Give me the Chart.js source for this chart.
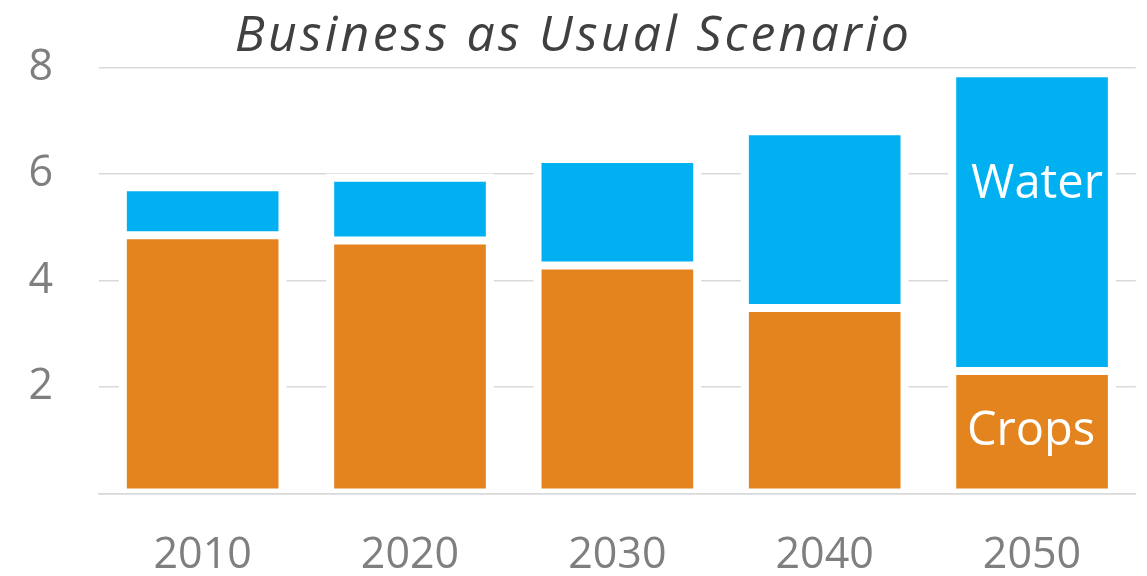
<!DOCTYPE html>
<html>
<head>
<meta charset="utf-8">
<script src="https://cdn.jsdelivr.net/npm/chart.js@4.4.1/dist/chart.umd.min.js"></script>
<style>
  html, body { margin: 0; padding: 0; background: #ffffff; }
  #wrap { width: 1147px; height: 576px; position: relative; }
</style>
</head>
<body>
<div id="wrap"><canvas id="chart"></canvas></div>
<script>
// Years on the category axis
const years = ['2010', '2020', '2030', '2040', '2050'];
// Stacked segments (same units as the value axis)
const crops = [4.85, 4.75, 4.28, 3.48, 2.30];
const water = [0.90, 1.18, 2.00, 3.32, 5.59];
// Value axis ticks
const yTicks = [0, 2, 4, 6, 8];

const CHART_TITLE = 'Business as Usual Scenario';
const CROPS_COLOR = '#E3841F';
const WATER_COLOR = '#00B0F0';
const GRID_COLOR = '#D9D9D9';
const TICK_COLOR = '#7F7F7F';
const FONT = "'Open Sans', 'Noto Sans', sans-serif";

// White halo around every bar so gridlines break around the columns
const barHalo = {
  id: 'barHalo',
  beforeDatasetsDraw(chart, args, opts) {
    const ctx = chart.ctx;
    const base = chart.scales.y.getPixelForValue(0);
    ctx.save();
    ctx.fillStyle = '#ffffff';
    chart.data.datasets.forEach((ds, i) => {
      chart.getDatasetMeta(i).data.forEach(bar => {
        const p = bar.getProps(['x', 'y', 'base', 'width'], true);
        const top = Math.min(p.y, p.base) - opts.pad;
        const bottom = Math.min(Math.max(p.y, p.base) + opts.pad, base - 1);
        ctx.fillRect(p.x - p.width / 2 - opts.pad, top, p.width + opts.pad * 2, bottom - top);
      });
    });
    ctx.restore();
  }
};

// Series names written inside the last column
const seriesNames = {
  id: 'seriesNames',
  afterDatasetsDraw(chart, args, opts) {
    const ctx = chart.ctx;
    const y = chart.scales.y;
    ctx.save();
    ctx.fillStyle = opts.color;
    ctx.font = opts.font;
    ctx.textAlign = 'center';
    ctx.textBaseline = 'alphabetic';
    opts.items.forEach(it => {
      const bar = chart.getDatasetMeta(it.dataset).data[it.index];
      ctx.fillText(chart.data.datasets[it.dataset].label, bar.x + it.dx, y.getPixelForValue(it.baseline));
    });
    ctx.restore();
  }
};

// Italic heading above the plot, slightly tracked out
const heading = {
  id: 'heading',
  afterDraw(chart, args, opts) {
    const ctx = chart.ctx;
    ctx.save();
    ctx.fillStyle = opts.color;
    ctx.font = opts.font;
    if ('letterSpacing' in ctx) ctx.letterSpacing = opts.tracking;
    ctx.textAlign = 'center';
    ctx.textBaseline = 'alphabetic';
    ctx.fillText(opts.text, chart.width / 2, opts.baseline);
    ctx.restore();
  }
};

new Chart(document.getElementById('chart'), {
  type: 'bar',
  data: {
    labels: years,
    datasets: [
      {
        label: 'Crops',
        data: crops,
        backgroundColor: CROPS_COLOR,
        borderColor: '#ffffff',
        borderWidth: 4,
        borderSkipped: false,
        inflateAmount: 0
      },
      {
        label: 'Water',
        data: water,
        backgroundColor: WATER_COLOR,
        borderColor: '#ffffff',
        borderWidth: 4,
        borderSkipped: false,
        inflateAmount: 0
      }
    ]
  },
  plugins: [barHalo, seriesNames, heading],
  options: {
    responsive: true,
    maintainAspectRatio: false,
    animation: false,
    layout: { padding: { left: 0, right: 11.3, top: 66.7, bottom: 0 } },
    datasets: { bar: { barPercentage: 0.77, categoryPercentage: 1 } },
    plugins: {
      legend: { display: false },
      tooltip: { enabled: false },
      title: { display: false },
      heading: {
        text: CHART_TITLE,
        color: '#404040',
        font: "italic 50px " + FONT,
        tracking: '3.2px',
        baseline: 51
      },
      barHalo: { pad: 4 },
      seriesNames: {
        color: '#ffffff',
        font: "47px " + FONT,
        items: [
          { dataset: 1, index: 4, baseline: 5.54, dx: 5 },
          { dataset: 0, index: 4, baseline: 0.91, dx: -1 }
        ]
      }
    },
    scales: {
      x: {
        stacked: true,
        z: 1,
        grid: { display: false, drawTicks: false },
        border: { display: true, color: GRID_COLOR, width: 1.5 },
        ticks: {
          color: TICK_COLOR,
          font: { family: FONT, size: 43 },
          padding: 37
        },
        afterFit(scale) { scale.height = 82.7; }
      },
      y: {
        stacked: true,
        min: yTicks[0],
        max: yTicks[yTicks.length - 1],
        afterBuildTicks(scale) { scale.ticks = yTicks.map(v => ({ value: v })); },
        grid: { color: GRID_COLOR, lineWidth: 1.5, drawTicks: false },
        border: { display: false },
        ticks: {
          color: TICK_COLOR,
          font: { family: FONT, size: 43, lineHeight: 1 },
          padding: 46,
          callback: v => (v === 0 ? '' : String(v))
        },
        afterFit(scale) { scale.width = 99; }
      }
    }
  }
});
</script>
</body>
</html>
